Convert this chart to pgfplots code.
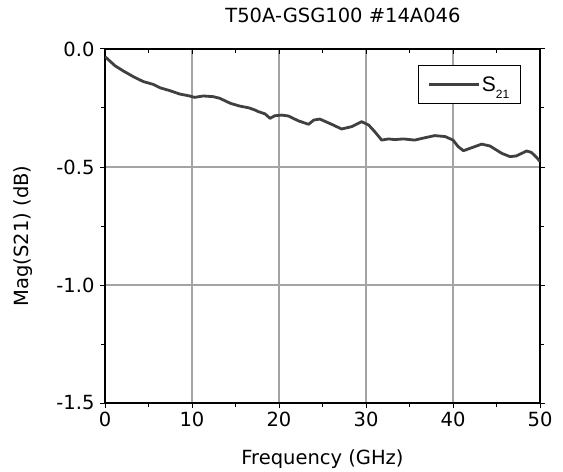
\documentclass[border=0pt]{standalone}
\usepackage{fontspec}
\setmainfont{DejaVu Sans}
\newfontfamily\arial{Liberation Sans}
\usepackage{pgfplots}
\pgfplotsset{compat=1.18}
\definecolor{curve}{HTML}{404040}
\definecolor{gridgray}{HTML}{A4A4A4}
\newcommand{\lblfont}{\fontsize{19.5}{23}\selectfont}
\begin{document}
\begin{tikzpicture}
\begin{axis}[
  name=ax,
  scale only axis,
  width=435pt, height=354pt,
  xmin=0, xmax=50, ymin=-1.5, ymax=0,
  xtick={0,10,20,30,40,50},
  ytick={-1.5,-1,-0.5,0},
  minor x tick num=1, minor y tick num=1,
  grid=major,
  grid style={color=gridgray, line width=1.2pt},
  tick align=outside,
  xtick pos=bottom, ytick pos=both,
  major tick length=5pt, minor tick length=4pt,
  tick style={black, line width=1pt},
  axis line style={line width=1.2pt},
  /pgf/number format/assume math mode=true,
  tick label style={font=\lblfont},
  yticklabel style={/pgf/number format/.cd, fixed, fixed zerofill, precision=1, /tikz/.cd, xshift=-2pt},
  xticklabel style={/pgf/number format/.cd, fixed, precision=0},
  title={T50A-GSG100 \#14A046},
  title style={font=\lblfont, at={(axis description cs:0.547,1.0593)}, anchor=base},
  xlabel={Frequency (GHz)},
  xlabel style={font=\lblfont, at={(axis description cs:0.5,-0.1751)}, anchor=base},
  ylabel={Mag(S21) (dB)},
  ylabel style={font=\lblfont, at={(axis description cs:-0.1759,0.472)}, anchor=base},
  legend style={at={(axis description cs:0.9563,0.9548)}, anchor=north east,
    draw=black, line width=1.3pt, fill=white, inner xsep=9pt, inner ysep=9pt,
    font=\arial\fontsize{21}{21}\selectfont},
  legend image code/.code={\draw[#1] (0pt,0pt) -- (50pt,0pt);},
]
\addplot[curve, line width=2.8pt, line join=round] coordinates {
(0,-0.033) (0.2,-0.039) (1.15,-0.071) (2.1,-0.093) (3.25,-0.117) (4.4,-0.138)
(5.55,-0.150) (6.3,-0.164) (7.5,-0.177) (8.6,-0.191) (9.6,-0.198) (10.3,-0.205)
(11.3,-0.199) (12.45,-0.202) (13.2,-0.209) (14.4,-0.230) (15.5,-0.242) (16.5,-0.249)
(17.2,-0.258) (17.6,-0.265) (18.0,-0.270) (18.4,-0.275) (18.97,-0.294) (19.5,-0.283)
(20.3,-0.280) (21.1,-0.284) (22.2,-0.304) (23.4,-0.319) (24.0,-0.301) (24.7,-0.297)
(26.05,-0.319) (27.2,-0.339) (28.35,-0.329) (29.5,-0.308) (30.3,-0.322) (31.0,-0.350)
(31.8,-0.386) (32.6,-0.381) (33.3,-0.384) (34.3,-0.381) (35.6,-0.386) (36.4,-0.379)
(37.9,-0.367) (39.1,-0.371) (40.0,-0.386) (40.6,-0.414) (41.2,-0.431) (41.95,-0.421)
(43.3,-0.403) (44.25,-0.411) (45.6,-0.442) (46.55,-0.456) (47.3,-0.453) (48.45,-0.432)
(49.0,-0.438) (49.6,-0.459) (50.0,-0.477)
};
\addlegendentry{S\raisebox{-7pt}{\fontsize{12}{12}\selectfont 21}}
\end{axis}
\begin{axis}[
  scale only axis,
  width=435pt, height=354pt,
  xmin=0, xmax=50, ymin=-1.5, ymax=0,
  axis x line*=top, axis y line=none,
  xtick={0,10,20,30,40,50}, minor x tick num=1,
  xticklabels={},
  tick align=inside,
  major tick length=5pt, minor tick length=4pt,
  tick style={black, line width=1pt},
  axis line style={line width=1.2pt},
]
\end{axis}
\pgfresetboundingbox
\path[use as bounding box] ([xshift=-105pt,yshift=-68pt]ax.south west) rectangle ([xshift=23pt,yshift=49pt]ax.north east);
\end{tikzpicture}
\end{document}
